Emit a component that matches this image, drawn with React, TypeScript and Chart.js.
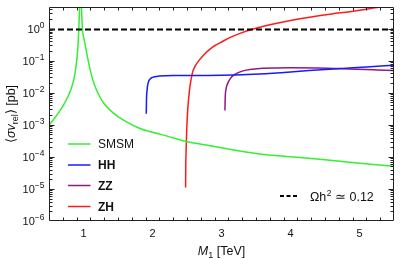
import React, { useEffect, useRef } from "react";
import { Chart, registerables } from "chart.js";
Chart.register(...registerables);

// ---- data ----
const smsmM = [0.5, 0.58, 0.652, 0.72, 0.78, 0.82, 0.85, 0.875, 0.895, 0.91, 0.922, 0.932, 0.943, 0.956, 0.97, 0.985, 1.01, 1.039, 1.07, 1.1, 1.135, 1.18, 1.24, 1.3, 1.38, 1.5, 1.65, 1.81, 2.0, 2.2, 2.49, 2.8, 3.2, 3.55, 4.0, 4.5, 5.0, 5.5];
const smsmSigma = [9.8e-4, 1.6e-3, 2.6e-3, 4.5e-3, 8.0e-3, 1.3e-2, 2.1e-2, 3.8e-2, 7.5e-2, 0.15, 0.35, 0.93, 4.7, 30, 4.7, 0.93, 0.45, 0.21, 9.5e-2, 4.8e-2, 2.5e-2, 1.35e-2, 7.2e-3, 4.5e-3, 2.9e-3, 1.8e-3, 1.15e-3, 7.8e-4, 5.8e-4, 4.5e-4, 3.0e-4, 2.3e-4, 1.6e-4, 1.23e-4, 1.0e-4, 8.1e-5, 6.3e-5, 5.1e-5];

const hhM = [1.91, 1.912, 1.92, 1.935, 1.96, 2.0, 2.1, 2.3, 2.8, 3.2, 3.55, 4.0, 4.27, 4.76, 5.1, 5.5];
const hhSigma = [2.2e-3, 5.0e-3, 1.12e-2, 1.95e-2, 2.6e-2, 3.0e-2, 3.3e-2, 3.45e-2, 3.45e-2, 3.55e-2, 3.8e-2, 4.4e-2, 4.9e-2, 5.7e-2, 6.3e-2, 7.2e-2];

const zzM = [3.05, 3.053, 3.065, 3.09, 3.13, 3.2, 3.3, 3.45, 3.6, 4.0, 4.4, 4.76, 5.1, 5.5];
const zzSigma = [2.8e-3, 6.3e-3, 1.26e-2, 1.95e-2, 2.8e-2, 3.8e-2, 4.7e-2, 5.4e-2, 5.75e-2, 6.0e-2, 5.9e-2, 5.6e-2, 5.25e-2, 4.9e-2];

const zhM = [2.48, 2.482, 2.487, 2.497, 2.51, 2.536, 2.56, 2.584, 2.62, 2.68, 2.75, 2.82, 2.9, 3.0, 3.12, 3.28, 3.45, 3.7, 4.0, 4.3, 4.6, 4.86, 5.1, 5.29, 5.5];
const zhSigma = [1.1e-5, 5.0e-5, 1.6e-4, 7.9e-4, 2.8e-3, 1.2e-2, 2.6e-2, 4.6e-2, 6.8e-2, 0.105, 0.155, 0.215, 0.29, 0.38, 0.52, 0.72, 0.95, 1.3, 1.78, 2.3, 2.85, 3.35, 4.0, 4.7, 5.5];

const relicSigma = 0.93;

const seriesLabels = ["SMSM", "HH", "ZZ", "ZH"];
const seriesBold = [false, true, true, true];
const seriesColors = ["#33f033", "#1a1aff", "#8b1a8b", "#ff1a1a"];
const relicLabel = "Ωh";
const relicLabelSup = "2";
const relicLabelTail = " ≃ 0.12";

const xMin = 0.5;
const xMax = 5.5;
const yMin = 1e-6;
const yMax = 4.68;
const xTickValues = [1, 2, 3, 4, 5];
const xTickLabels = ["1", "2", "3", "4", "5"];
const yTickValues = [1e-6, 1e-5, 1e-4, 1e-3, 1e-2, 1e-1, 1];
const yTickExps = ["−6", "−5", "−4", "−3", "−2", "−1", "0"];

const FONT = '"Liberation Sans", Arial, sans-serif';

const mmaPlugin = {
  id: "mmaFrame",
  afterDraw(chart: any) {
    const { ctx, chartArea: a, scales } = chart;
    const xs = scales.x;
    const ys = scales.y;
    ctx.save();
    const L = a.left + 0.5, R = a.right - 0.5, T = a.top + 0.5, B = a.bottom - 0.5;
    ctx.strokeStyle = "#222";
    ctx.lineWidth = 1;
    ctx.beginPath();
    ctx.rect(L, T, R - L, B - T);
    for (let i = 0; i <= 25; i++) {
      const v = xMin + i * 0.2;
      if (v <= xMin + 1e-6 || v >= xMax - 1e-6) continue;
      const major = Math.abs(v - Math.round(v)) < 1e-6;
      const len = major ? 5 : 3;
      const px = Math.round(xs.getPixelForValue(v)) + 0.5;
      ctx.moveTo(px, B); ctx.lineTo(px, B - len);
      ctx.moveTo(px, T); ctx.lineTo(px, T + len);
    }
    for (let e = -6; e <= 0; e++) {
      for (let m = 1; m <= 9; m++) {
        const v = m * Math.pow(10, e);
        if (v <= yMin * 1.0001 || v > yMax) continue;
        const len = m === 1 ? 5 : 3;
        const py = Math.round(ys.getPixelForValue(v)) + 0.5;
        ctx.moveTo(L, py); ctx.lineTo(L + len, py);
        ctx.moveTo(R, py); ctx.lineTo(R - len, py);
      }
    }
    ctx.stroke();

    // y tick labels
    ctx.fillStyle = "#111";
    ctx.textBaseline = "alphabetic";
    for (let i = 0; i < yTickValues.length; i++) {
      const py = ys.getPixelForValue(yTickValues[i]);
      const rightEdge = a.left - 4.5;
      ctx.font = `8.5px ${FONT}`;
      const ew = ctx.measureText(yTickExps[i]).width;
      ctx.textAlign = "left";
      ctx.fillText(yTickExps[i], rightEdge - ew, py - 1);
      ctx.font = `11px ${FONT}`;
      ctx.textAlign = "right";
      ctx.fillText("10", rightEdge - ew, py + 4);
    }

    // x title
    {
      const cy = 255;
      const parts = [
        { t: "M", f: `italic 12.5px ${FONT}`, dy: 0 },
        { t: "1", f: `9px ${FONT}`, dy: 3 },
        { t: " [TeV]", f: `12.5px ${FONT}`, dy: 0 },
      ];
      let w = 0;
      for (const p of parts) { ctx.font = p.f; w += ctx.measureText(p.t).width; }
      let x = (a.left + a.right) / 2 - w / 2;
      ctx.textAlign = "left";
      for (const p of parts) { ctx.font = p.f; ctx.fillText(p.t, x, cy + p.dy); x += ctx.measureText(p.t).width; }
    }
    // y title
    {
      ctx.save();
      ctx.translate(14.5, (a.top + a.bottom) / 2);
      ctx.rotate(-Math.PI / 2);
      const parts = [
        { t: "⟨", f: `12.5px ${FONT}`, dy: 0 },
        { t: "σv", f: `italic 12.5px ${FONT}`, dy: 0 },
        { t: "rel", f: `9px ${FONT}`, dy: 3 },
        { t: "⟩ [pb]", f: `12.5px ${FONT}`, dy: 0 },
      ];
      let w = 0;
      for (const p of parts) { ctx.font = p.f; w += ctx.measureText(p.t).width; }
      let x = -w / 2;
      ctx.textAlign = "left";
      for (const p of parts) { ctx.font = p.f; ctx.fillText(p.t, x, p.dy); x += ctx.measureText(p.t).width; }
      ctx.restore();
    }

    // legend (series)
    const lx0 = 68, lx1 = 90.5, tx = 98;
    const rows = [144, 165, 185.5, 206.5];
    for (let i = 0; i < seriesLabels.length; i++) {
      const y = rows[i];
      ctx.strokeStyle = seriesColors[i];
      ctx.lineWidth = 1.5;
      ctx.beginPath(); ctx.moveTo(lx0, y); ctx.lineTo(lx1, y); ctx.stroke();
      ctx.fillStyle = "#111";
      ctx.font = `${seriesBold[i] ? "bold " : ""}12px ${FONT}`;
      ctx.textAlign = "left";
      ctx.fillText(seriesLabels[i], tx, y + 4.3);
    }
    // legend (relic)
    {
      const y = 196;
      ctx.strokeStyle = "#000";
      ctx.lineWidth = 2;
      ctx.setLineDash([4, 2.5]);
      ctx.beginPath(); ctx.moveTo(280, y); ctx.lineTo(297, y); ctx.stroke();
      ctx.setLineDash([]);
      ctx.fillStyle = "#111";
      let x = 310;
      ctx.font = `12.5px ${FONT}`;
      ctx.fillText(relicLabel, x, y + 4.5); x += ctx.measureText(relicLabel).width;
      ctx.font = `8.5px ${FONT}`;
      ctx.fillText(relicLabelSup, x + 0.5, y - 0.5); x += ctx.measureText(relicLabelSup).width + 0.5;
      ctx.font = `12.5px ${FONT}`;
      ctx.fillText(relicLabelTail, x, y + 4.5);
    }
    ctx.restore();
  },
};

function toPoints(xs: number[], ys: number[]) {
  return xs.map((x, i) => ({ x, y: ys[i] }));
}

export default function App() {
  const ref = useRef<HTMLCanvasElement | null>(null);
  useEffect(() => {
    if (!ref.current) return;
    const mk = (label: string, xs: number[], ys: number[], color: string) => ({
      label,
      data: toPoints(xs, ys),
      borderColor: color,
      backgroundColor: color,
      borderWidth: 1.5,
      pointRadius: 0,
      showLine: true,
      fill: false,
      cubicInterpolationMode: "monotone" as const,
    });
    const chart = new Chart(ref.current, {
      type: "scatter",
      data: {
        datasets: [
          {
            label: "relic",
            data: [{ x: xMin, y: relicSigma }, { x: xMax, y: relicSigma }],
            borderColor: "#000",
            borderWidth: 2,
            borderDash: [6, 3],
            pointRadius: 0,
            showLine: true,
            fill: false,
          },
          mk(seriesLabels[0], smsmM, smsmSigma, seriesColors[0]),
          mk(seriesLabels[1], hhM, hhSigma, seriesColors[1]),
          mk(seriesLabels[2], zzM, zzSigma, seriesColors[2]),
          mk(seriesLabels[3], zhM, zhSigma, seriesColors[3]),
        ],
      },
      options: {
        responsive: false,
        animation: false,
        devicePixelRatio: 1,
        layout: { padding: { top: 7, right: 6, bottom: 0, left: 0 } },
        plugins: { legend: { display: false }, tooltip: { enabled: false } },
        scales: {
          x: {
            type: "linear",
            min: xMin,
            max: xMax,
            grid: { display: false, drawTicks: false },
            border: { display: false },
            afterBuildTicks: (s: any) => { s.ticks = xTickValues.map((v) => ({ value: v })); },
            afterFit: (s: any) => { s.height = 38; },
            ticks: {
              padding: 6,
              color: "#111",
              font: { family: FONT, size: 11 },
              callback: (v: any) => xTickLabels[xTickValues.indexOf(Number(v))] ?? "",
              maxRotation: 0,
              autoSkip: false,
            },
          },
          y: {
            type: "logarithmic",
            min: yMin,
            max: yMax,
            grid: { display: false, drawTicks: false },
            border: { display: false },
            afterFit: (s: any) => { s.width = 49; },
            ticks: { display: false },
          },
        },
      },
      plugins: [mmaPlugin],
    });
    return () => chart.destroy();
  }, []);
  return (
    <div style={{ position: "fixed", left: 0, top: 0, width: 400, height: 259, background: "#fff" }}>
      <canvas ref={ref} width={400} height={259} style={{ display: "block" }} />
    </div>
  );
}
